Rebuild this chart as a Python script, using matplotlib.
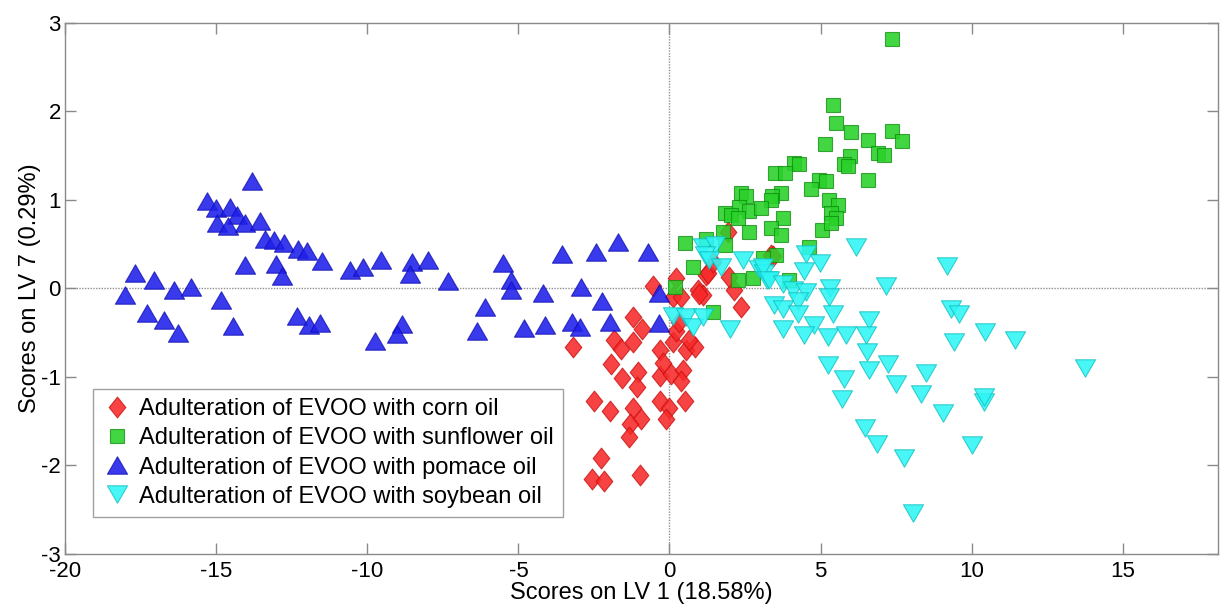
import matplotlib
matplotlib.use("Agg")
import matplotlib.pyplot as plt
from matplotlib.path import Path

plt.rcParams['font.family'] = ['Liberation Sans', 'DejaVu Sans']
plt.rcParams['axes.unicode_minus'] = False

# PLS-DA scores (LV1 vs LV7) for each adulteration class
corn_x = [-3.19, -1.21, -0.90, -1.82, -1.59, -1.21, -1.92, -1.56, -1.04, -1.07,
          -2.50, -1.98, -1.21, -0.94, -1.32, -1.34, -2.25, -2.55, -2.18, -0.99,
          -0.33, -0.33, -0.22, 0.06, 0.13, 0.44, 0.39, -0.33, -0.03, -0.11,
          0.50, 0.55, 0.83, 0.22, -0.55, 0.22, 0.11, 0.93, 1.10, 1.21,
          2.15, 2.37, 0.33, 0.66, 1.27, 0.99, 1.98, 3.36, 0.39, 1.43, 1.92, 3.41]
corn_y = [-0.67, -0.33, -0.46, -0.59, -0.69, -0.61, -0.86, -1.01, -0.95, -1.12,
          -1.27, -1.39, -1.35, -1.48, -1.54, -1.68, -1.92, -2.16, -2.18, -2.11,
          -0.99, -0.70, -0.84, -0.97, -0.61, -0.93, -1.05, -1.27, -1.35, -1.48,
          -1.27, -0.70, -0.67, -0.48, 0.03, 0.11, -0.10, -0.02, -0.08, 0.15,
          -0.02, -0.21, -0.38, -0.59, 0.17, -0.06, 0.13, 0.38, -0.10, 0.30, 0.64, 0.36]

sunflower_x = [7.37, 5.42, 5.50, 6.00, 7.35, 7.70, 6.58, 5.14, 6.91, 7.10,
               5.96, 5.78, 5.92, 4.13, 4.29, 3.50, 3.83, 6.58, 4.95, 5.17,
               4.68, 3.69, 3.39, 2.37, 2.53, 5.28, 3.36, 2.31, 2.64, 1.82,
               2.04, 3.03, 5.56, 5.34, 5.50, 5.06, 5.34, 3.74, 3.36, 3.69,
               2.64, 1.76, 2.26, 1.21, 0.50, 1.82, 4.62, 3.52, 3.08, 0.77,
               2.75, 2.26, 0.17, 1.43, 3.96]
sunflower_y = [2.82, 2.07, 1.87, 1.76, 1.78, 1.66, 1.67, 1.63, 1.53, 1.50,
               1.49, 1.40, 1.38, 1.41, 1.40, 1.30, 1.30, 1.22, 1.22, 1.21,
               1.12, 1.08, 1.04, 1.08, 1.04, 1.00, 1.00, 0.92, 0.87, 0.85,
               0.83, 0.91, 0.94, 0.85, 0.79, 0.66, 0.74, 0.79, 0.68, 0.60,
               0.64, 0.64, 0.79, 0.56, 0.51, 0.49, 0.47, 0.38, 0.34, 0.24,
               0.11, 0.09, 0.01, -0.27, 0.09]

pomace_x = [-13.80, -15.31, -15.01, -14.54, -14.32, -14.98, -14.62, -14.06, -13.56, -13.40,
            -13.10, -12.77, -12.29, -12.01, -11.49, -14.03, -13.03, -12.81, -10.56, -10.14,
            -17.68, -17.05, -18.01, -16.39, -15.83, -14.85, -17.29, -16.74, -16.25, -14.43,
            -12.34, -11.92, -11.57, -9.55, -8.53, -7.98, -8.60, -7.32, -5.52, -5.23,
            -5.23, -6.11, -4.18, -3.55, -2.44, -1.70, -0.72, -2.94, -2.22, -0.35,
            -8.86, -9.02, -9.76, -6.38, -4.81, -4.13, -3.21, -2.97, -1.98, -0.35]
pomace_y = [1.21, 0.99, 0.91, 0.92, 0.83, 0.74, 0.70, 0.74, 0.76, 0.56,
            0.55, 0.51, 0.44, 0.42, 0.31, 0.26, 0.27, 0.14, 0.20, 0.24,
            0.17, 0.09, -0.08, -0.02, 0.01, -0.13, -0.28, -0.36, -0.51, -0.43,
            -0.31, -0.42, -0.39, 0.32, 0.30, 0.32, 0.16, 0.08, 0.28, 0.09,
            -0.02, -0.21, -0.05, 0.39, 0.41, 0.52, 0.41, 0.01, -0.14, -0.05,
            -0.40, -0.52, -0.60, -0.48, -0.45, -0.42, -0.38, -0.44, -0.38, -0.39]

soybean_x = [0.11, 0.55, 0.77, 1.10, 2.00, 1.10, 1.49, 1.16, 1.32, 1.71,
             2.42, 2.97, 3.14, 3.24, 6.16, 4.51, 4.98, 9.19, 3.08, 4.46,
             3.30, 3.74, 5.31, 7.15, 4.07, 4.51, 4.24, 3.47, 3.74, 4.24,
             5.42, 4.79, 3.74, 4.46, 5.26, 5.83, 6.60, 6.49, 6.52, 9.30,
             9.41, 5.23, 5.78, 6.60, 7.24, 7.51, 8.50, 8.31, 5.70, 9.04,
             6.47, 9.57, 10.45, 11.44, 13.75, 10.40, 10.40, 10.01, 7.76, 8.05,
             6.86, 5.28]
soybean_y = [-0.31, -0.33, -0.44, -0.33, -0.46, 0.47, 0.49, 0.38, 0.32, 0.24,
             0.32, 0.22, 0.17, 0.09, 0.47, 0.39, 0.28, 0.25, 0.24, 0.19,
             0.09, 0.05, 0.00, 0.03, -0.02, -0.04, -0.14, -0.19, -0.23, -0.29,
             -0.29, -0.42, -0.46, -0.53, -0.55, -0.53, -0.36, -0.53, -0.72, -0.23,
             -0.61, -0.87, -1.03, -0.93, -0.86, -1.08, -0.96, -1.20, -1.25, -1.41,
             -1.58, -0.29, -0.50, -0.58, -0.90, -1.29, -1.23, -1.77, -1.92, -2.54,
             -1.76, -0.10]

labels = ["Adulteration of EVOO with corn oil",
          "Adulteration of EVOO with sunflower oil",
          "Adulteration of EVOO with pomace oil",
          "Adulteration of EVOO with soybean oil"]

x_ticks = [-20, -15, -10, -5, 0, 5, 10, 15]
y_ticks = [-3, -2, -1, 0, 1, 2, 3]

# marker outlines: a slightly tall diamond and equilateral up/down triangles
diamond = Path([(0, 0.5), (-0.40, 0), (0, -0.5), (0.40, 0), (0, 0.5)],
               [Path.MOVETO, Path.LINETO, Path.LINETO, Path.LINETO, Path.CLOSEPOLY])
tri_up = Path([(0, 0.433), (-0.5, -0.433), (0.5, -0.433), (0, 0.433)],
              [Path.MOVETO, Path.LINETO, Path.LINETO, Path.CLOSEPOLY])
tri_down = Path([(0, -0.433), (-0.5, 0.433), (0.5, 0.433), (0, -0.433)],
                [Path.MOVETO, Path.LINETO, Path.LINETO, Path.CLOSEPOLY])

fig = plt.figure(figsize=(12.2, 6.04), dpi=100)
ax = fig.add_axes([0.0533, 0.0833, 0.9451, 0.8791])

ax.axhline(0, color='#909090', lw=1.0, ls=(0, (1, 1)), zorder=1)
ax.axvline(0, color='#909090', lw=1.0, ls=(0, (1, 1)), zorder=1)

styles = [
    (corn_x, corn_y, diamond, 15, (0.97, 0.16, 0.16), (0.78, 0.05, 0.05)),
    (sunflower_x, sunflower_y, 's', 10.5, (0.16, 0.82, 0.16), (0.05, 0.55, 0.05)),
    (pomace_x, pomace_y, tri_up, 14.5, (0.12, 0.12, 0.92), (0.05, 0.05, 0.70)),
    (soybean_x, soybean_y, tri_down, 14.5, (0.18, 0.96, 0.96), (0.05, 0.75, 0.75)),
]

for (xs, ys, mk, ms, fc, ec), lab in zip(styles, labels):
    ax.plot(xs, ys, ls='none', marker=mk, ms=ms,
            mfc=fc + (0.88,), mec=ec + (0.75,), mew=0.8,
            label=lab, zorder=3)

ax.set_xlim(-20, 18.15)
ax.set_ylim(-3, 3)
ax.set_xticks(x_ticks)
ax.set_yticks(y_ticks)
ax.tick_params(direction='in', length=8, width=1, color='#8a8a8a',
               labelsize=16, top=True, right=True)
ax.tick_params(axis='x', pad=5)
ax.tick_params(axis='y', pad=3)
for s in ax.spines.values():
    s.set_color('#8a8a8a')
    s.set_linewidth(1)

ax.set_xlabel("Scores on LV 1 (18.58%)", fontsize=17, labelpad=0)
ax.set_ylabel("Scores on LV 7 (0.29%)", fontsize=17, labelpad=0)

leg = ax.legend(loc='lower left', bbox_to_anchor=(0.0243, 0.069),
                borderaxespad=0, fontsize=17, fancybox=False,
                frameon=True, edgecolor='#8a8a8a', handletextpad=0.35,
                handlelength=1.2, labelspacing=0.3, borderpad=0.4)
leg.get_frame().set_linewidth(1)

fig.savefig("out.png", dpi=100)
